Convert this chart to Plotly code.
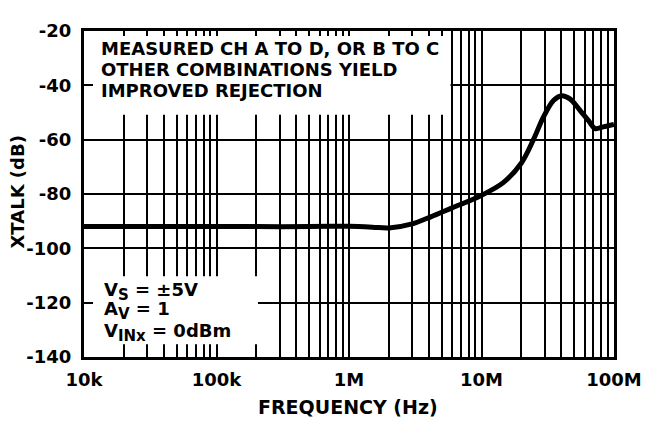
import plotly.graph_objects as go

# ---- data ----
freq_hz = [1e4, 2e4, 5e4, 1e5, 2e5, 5e5, 7.2e5, 1e6, 1.5e6, 2e6, 3e6, 4.1e6, 6e6,
           9.8e6, 14.6e6, 20e6, 24.6e6, 29.3e6, 34.9e6, 40.3e6, 46.5e6, 55.4e6,
           64e6, 72e6, 83e6, 100e6]
xtalk_db = [-92.0, -92.0, -92.0, -92.0, -92.0, -92.0, -91.9, -91.9, -92.2, -92.5,
            -91.0, -88.5, -85.1, -80.7, -75.8, -68.6, -60.1, -51.7, -45.6, -43.8,
            -45.0, -49.2, -52.9, -55.9, -55.3, -54.4]

x_tick_vals = [1e4, 1e5, 1e6, 1e7, 1e8]
x_tick_text = ["10k", "100k", "1M", "10M", "100M"]
y_tick_vals = [-140, -120, -100, -80, -60, -40, -20]
y_tick_text = ["-140", "-120", "-100", "-80", "-60", "-40", "-20"]

note_top = ["MEASURED CH A TO D, OR B TO C",
            "OTHER COMBINATIONS YIELD",
            "IMPROVED REJECTION"]
SUB = '<sub><span style="font-size:15px">{}</span></sub>'
note_bottom = ["V" + SUB.format("S") + " = ±5V",
               "A" + SUB.format("V") + " = 1",
               "V" + SUB.format("INx") + " = 0dBm"]

# ---- layout geometry (reference pixels; page body has an 8px margin) ----
OFF = 8
W, H = 660 - OFF, 423 - OFF
L, R, T, B = 84, 614, 26, 357


def px_x(p):
    return (p - L) / (R - L)


def px_y(p):
    return (B - p) / (B - T)


minor_vals = [m * 10 ** e for e in range(4, 8) for m in range(2, 10)]

FONT = "DejaVu Sans"
fs = 18


def bold(size):
    return dict(family=FONT, size=size, color="black", weight="bold")


fig = go.Figure()
fig.add_trace(go.Scatter(
    x=freq_hz, y=xtalk_db, mode="lines",
    line=dict(color="black", width=5, shape="spline", smoothing=0.9),
    hoverinfo="skip", showlegend=False,
))

fig.update_layout(
    width=W, height=H,
    margin=dict(l=L - OFF, r=660 - R, t=T - OFF, b=423 - B, pad=0),
    paper_bgcolor="white", plot_bgcolor="white",
    font=bold(fs),
    showlegend=False,
)

fig.update_xaxes(
    type="log", range=[4, 8],
    tickmode="array", tickvals=x_tick_vals, ticktext=x_tick_text,
    ticks="inside", ticklen=6, tickwidth=2, tickcolor="black",
    showgrid=True, gridcolor="black", gridwidth=2,
    minor=dict(tickmode="array", tickvals=minor_vals, showgrid=True,
               gridcolor="black", gridwidth=2, ticks="inside", ticklen=5,
               tickwidth=2, tickcolor="black"),
    showline=True, linecolor="black", linewidth=3, mirror="allticks",
    tickfont=bold(fs), ticklabelstandoff=4, zeroline=False,
)
fig.update_yaxes(
    range=[-140, -20], tickmode="array", tickvals=y_tick_vals,
    ticktext=y_tick_text,
    ticks="inside", ticklen=9, tickwidth=2, tickcolor="black",
    showgrid=True, gridcolor="black", gridwidth=2,
    showline=True, linecolor="black", linewidth=3, mirror="allticks",
    tickfont=bold(fs), ticklabelstandoff=6, zeroline=False,
)

# white note boxes covering the grid (inset so grid stubs read as ticks)
fig.add_shape(type="rect", xref="paper", yref="paper",
              x0=px_x(93), x1=px_x(450.5), y0=px_y(111), y1=px_y(31),
              fillcolor="white", line=dict(width=0), layer="above")
fig.add_shape(type="rect", xref="paper", yref="paper",
              x0=px_x(93), x1=px_x(258), y0=px_y(344), y1=px_y(275),
              fillcolor="white", line=dict(width=0), layer="above")

for txt, yc in zip(note_top, [44, 65, 86]):
    fig.add_annotation(text=txt, xref="paper", yref="paper",
                       x=px_x(99), y=px_y(yc), xanchor="left", yanchor="middle",
                       showarrow=False, font=bold(fs))

for txt, yc in zip(note_bottom, [290, 310, 332]):
    fig.add_annotation(text=txt, xref="paper", yref="paper",
                       x=px_x(102), y=px_y(yc), xanchor="left", yanchor="middle",
                       showarrow=False, font=bold(fs))

# axis titles
fig.add_annotation(text="FREQUENCY (Hz)", xref="paper", yref="paper",
                   x=px_x(348), y=px_y(408), xanchor="center", yanchor="middle",
                   showarrow=False, font=bold(19))
fig.add_annotation(text="XTALK (dB)", xref="paper", yref="paper",
                   x=px_x(18), y=px_y(190), xanchor="center", yanchor="middle",
                   textangle=-90, showarrow=False, font=bold(18))

fig.write_html("out.html")
